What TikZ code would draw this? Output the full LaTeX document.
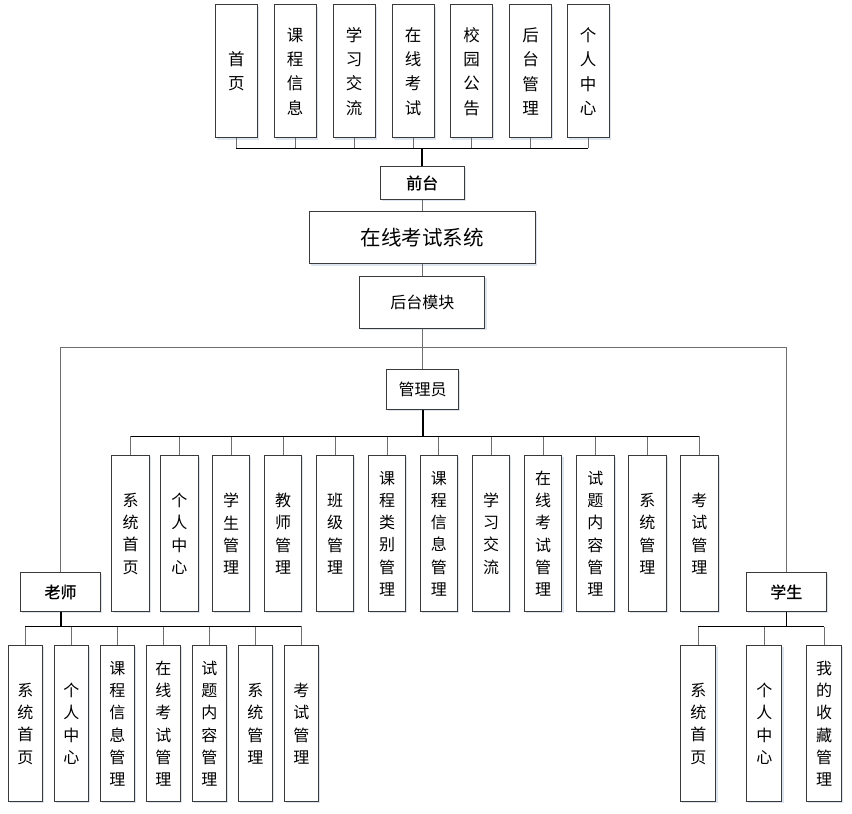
\documentclass[tikz,border=0pt]{standalone}
\usepackage{fontspec}
\newfontfamily\cjk[AutoFakeBold=0.8]{Noto Sans CJK SC}
\usetikzlibrary{shadows}
\definecolor{boxline}{HTML}{3A3A3A}
\definecolor{linkgray}{HTML}{6E6E6E}
\definecolor{shade}{HTML}{DCE5EF}
\tikzset{
  box/.style={draw=boxline, line width=1pt, fill=white, inner sep=0pt, align=center,
    general shadow={shadow xshift=1.6pt, shadow yshift=-1.6pt, fill=shade}},
  topbox/.style={box, minimum width=42pt, minimum height=133pt, font=\cjk\fontsize{16.5}{24.4}\selectfont},
  colbox/.style={box, minimum height=156pt, font=\cjk\fontsize{16}{22.2}\selectfont},
  hbox/.style={box, font=\cjk\fontsize{16}{20}\selectfont},
  link/.style={draw=linkgray, line width=1pt},
  bus/.style={draw=black, line width=1pt},
  trunk/.style={draw=black, line width=2pt},
}
\begin{document}
\begin{tikzpicture}[x=1pt, y=-1pt]
\useasboundingbox (0,0) rectangle (852,814);

% top row
\node[topbox] (t1) at (236.3,71.4) {首\\页};
\node[topbox] (t2) at (295,71.4) {课\\程\\信\\息};
\node[topbox] (t3) at (354,71.4) {学\\习\\交\\流};
\node[topbox] (t4) at (413,71.4) {在\\线\\考\\试};
\node[topbox] (t5) at (471.7,71.4) {校\\园\\公\\告};
\node[topbox] (t6) at (530.5,71.4) {后\\台\\管\\理};
\node[topbox] (t7) at (588,71.4) {个\\人\\中\\心};

\node[hbox, minimum width=84pt, minimum height=32.6pt, font=\cjk\bfseries\fontsize{16}{20}\selectfont] (qt) at (422.2,183) {前台};
\node[hbox, minimum width=225.7pt, minimum height=52.3pt, font=\cjk\fontsize{20.5}{24}\selectfont] (sys) at (422.2,237.8) {在线考试系统};
\node[hbox, minimum width=125.3pt, minimum height=52.3pt] (ht) at (422.3,302.2) {后台模块};
\node[hbox, minimum width=71.6pt, minimum height=40pt] (gly) at (422.5,389.3) {管理员};
\node[hbox, minimum width=79.6pt, minimum height=39.4pt, font=\cjk\bfseries\fontsize{16}{20}\selectfont] (ls) at (60.5,592) {老师};
\node[hbox, minimum width=80pt, minimum height=39.4pt, font=\cjk\bfseries\fontsize{16}{20}\selectfont] (xs) at (786.3,592) {学生};

% admin children
\node[colbox, minimum width=37.5pt] (a1) at (130.7,533.7) {系\\统\\首\\页};
\node[colbox, minimum width=37.5pt] (a2) at (179.3,533.7) {个\\人\\中\\心};
\node[colbox, minimum width=37.5pt] (a3) at (231,533.7) {学\\生\\管\\理};
\node[colbox, minimum width=37.5pt] (a4) at (283,533.7) {教\\师\\管\\理};
\node[colbox, minimum width=37.5pt] (a5) at (335,533.7) {班\\级\\管\\理};
\node[colbox, minimum width=37.5pt] (a6) at (387,533.7) {课\\程\\类\\别\\管\\理};
\node[colbox, minimum width=37.5pt] (a7) at (438.9,533.7) {课\\程\\信\\息\\管\\理};
\node[colbox, minimum width=37.5pt] (a8) at (491.1,533.7) {学\\习\\交\\流};
\node[colbox, minimum width=37.5pt] (a9) at (543.2,533.7) {在\\线\\考\\试\\管\\理};
\node[colbox, minimum width=37.5pt] (a10) at (595.3,533.7) {试\\题\\内\\容\\管\\理};
\node[colbox, minimum width=37.5pt] (a11) at (647.3,533.7) {系\\统\\管\\理};
\node[colbox, minimum width=37.5pt] (a12) at (699.3,533.7) {考\\试\\管\\理};

% teacher children
\node[colbox, minimum width=34pt] (l1) at (25.3,723.7) {系\\统\\首\\页};
\node[colbox, minimum width=34pt] (l2) at (71.3,723.7) {个\\人\\中\\心};
\node[colbox, minimum width=34pt] (l3) at (117.3,723.7) {课\\程\\信\\息\\管\\理};
\node[colbox, minimum width=34pt] (l4) at (163.3,723.7) {在\\线\\考\\试\\管\\理};
\node[colbox, minimum width=34pt] (l5) at (209.3,723.7) {试\\题\\内\\容\\管\\理};
\node[colbox, minimum width=34pt] (l6) at (255.3,723.7) {系\\统\\管\\理};
\node[colbox, minimum width=34pt] (l7) at (301.3,723.7) {考\\试\\管\\理};

% student children
\node[colbox, minimum width=35.3pt] (s1) at (698.3,723.7) {系\\统\\首\\页};
\node[colbox, minimum width=35.3pt] (s2) at (764.3,723.7) {个\\人\\中\\心};
\node[colbox, minimum width=35.3pt] (s3) at (824.2,723.7) {我\\的\\收\\藏\\管\\理};

% bus coordinates
\coordinate (tbus) at (421.8,148.3);
\coordinate (mbus) at (422.3,347.3);
\coordinate (abus) at (422.3,436);
\coordinate (lbus) at (61,626);
\coordinate (sbus) at (786.7,626.5);

% top connectors
\foreach \n in {t1,t2,t3,t4,t5,t6,t7}
  \draw[link] (\n.south) -- (\n.south |- tbus);
\draw[bus] (t1.south |- tbus) -- (t7.south |- tbus);
\draw[trunk] (tbus) -- (tbus |- qt.north);
\draw[link] (qt.south) -- (qt.south |- sys.north);
\draw[link] (sys.south) -- (sys.south |- ht.north);
\draw[link] (ht.south) -- (ht.south |- mbus);

% main split
\draw[link] (mbus) -- (mbus |- gly.north);
\draw[link] (ls.north) -- (ls.north |- mbus) -- (xs.north |- mbus) -- (xs.north);

% admin
\draw[trunk] (gly.south) -- (gly.south |- abus);
\foreach \n in {a1,a2,a3,a4,a5,a6,a7,a8,a9,a10,a11,a12}
  \draw[link] (\n.north) -- (\n.north |- abus);
\draw[bus] (a1.north |- abus) -- (a12.north |- abus);

% teacher
\draw[trunk] (ls.south) -- (ls.south |- lbus);
\foreach \n in {l1,l2,l3,l4,l5,l6,l7}
  \draw[link] (\n.north) -- (\n.north |- lbus);
\draw[bus] (l1.north |- lbus) -- (l7.north |- lbus);

% student
\draw[bus] (xs.south) -- (xs.south |- sbus);
\foreach \n in {s1,s2,s3}
  \draw[link] (\n.north) -- (\n.north |- sbus);
\draw[bus] (s1.north |- sbus) -- (s3.north |- sbus);
\end{tikzpicture}
\end{document}
